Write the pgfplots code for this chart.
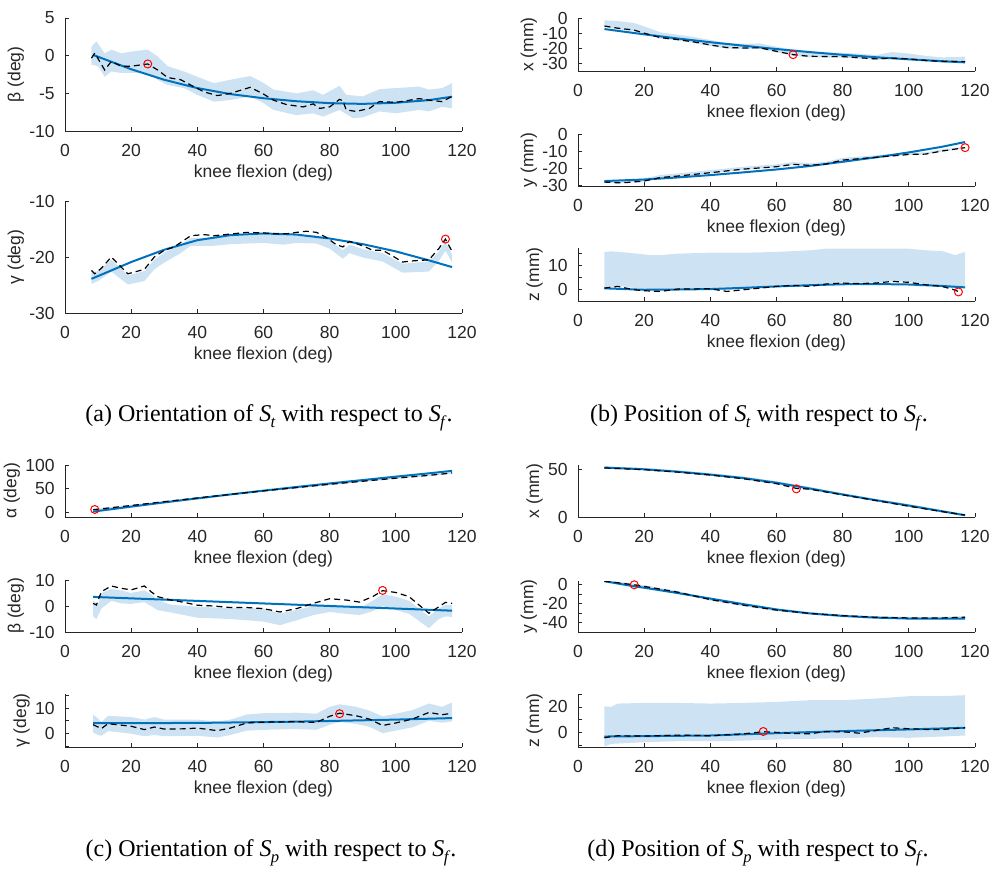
\documentclass[border=0pt]{standalone}
\usepackage{fontspec}
\setmainfont{Liberation Sans}
\newfontfamily\capfont{Liberation Serif}
\usepackage{pgfplots}
\pgfplotsset{compat=1.18}
\usepgfplotslibrary{fillbetween}

\definecolor{mgray}{RGB}{38,38,38}
\definecolor{mblue}{RGB}{0,114,189}
\definecolor{bandc}{RGB}{205,227,243}

\newcommand\tickfont{\fontsize{8.75}{10}\selectfont}
\newcommand\capsize{\fontsize{12}{14}\selectfont}
\newcommand\subS[1]{\textit{S}\kern-0.03em\raisebox{-0.55ex}{\fontsize{8.3}{9}\selectfont\textit{#1}}}

\pgfplotsset{
  panel/.style={
    scale only axis, width=198.5pt, anchor=south west,
    xmin=0, xmax=120, xtick={0,20,...,120},
    axis x line*=bottom, axis y line*=left,
    axis line style={mgray, line width=0.4pt},
    tick align=inside, major tick length=2.2pt,
    every tick/.style={mgray, line width=0.4pt},
    tick label style={font=\tickfont, text=mgray, inner sep=0pt},
    xticklabel shift=6.3pt, yticklabel shift=5pt,
    /pgf/number format/assume math mode=true,
    label style={font=\tickfont, text=mgray, inner sep=0pt},
    xlabel={knee flexion (deg)},
    xlabel style={at={(axis description cs:0.5,0)}, anchor=base, yshift=-23pt},
    ylabel shift=2.5pt,
  },
  band/.style={fill=bandc, draw=none},
  fit/.style={mblue, line width=1pt, no markers},
  avg/.style={black, line width=0.6pt, dash pattern=on 3pt off 2pt, no markers},
  pick/.style={only marks, mark=o, mark size=2pt, red, mark options={line width=0.5pt}},
}

\begin{document}
\begin{tikzpicture}
\path (0,0) rectangle (496pt,-435pt);

% (a) orientation, beta
\begin{axis}[panel, at={(32.5pt,-65.5pt)}, height=56.5pt,
  ymin=-10, ymax=5, ytick={-10,-5,0,5}, ylabel={β (deg)}]
\addplot[name path=u, draw=none] coordinates {(8,1.2)(9.5,1.9)(12,0.3)(14,0.8)(17,0.3)(20,0.55)(25,0.8)(28,-0.1)(31,-1.4)(36,-2.1)(40,-2.8)(45,-3.65)(50,-3.2)(56,-2.7)(60,-3.6)(63,-4.5)(70,-5.0)(75,-4.6)(78,-5.2)(83,-4.0)(85,-5.2)(90,-5.4)(95,-4.45)(100,-4.3)(107,-4.1)(110,-4.5)(114,-4.3)(117,-3.65)};
\addplot[name path=l, draw=none] coordinates {(8,-1.2)(10,-1.4)(12,-2.8)(14,-2.1)(17,-2.3)(25,-2.3)(28,-3.2)(31,-3.9)(36,-4.3)(40,-5.2)(45,-6.1)(50,-5.9)(56,-5.4)(60,-6.3)(63,-7.2)(70,-7.9)(75,-7.65)(78,-8.1)(83,-7.2)(87,-8.3)(90,-8.2)(95,-7.4)(100,-7.65)(107,-7.2)(110,-7.4)(114,-6.8)(117,-7.0)};
\addplot[band] fill between[of=u and l];
\addplot[fit] coordinates {(8.5,0.1)(20,-1.8)(30,-3.2)(40,-4.3)(50,-5.1)(60,-5.65)(70,-6.05)(80,-6.3)(90,-6.4)(100,-6.25)(110,-5.9)(117,-5.45)};
\addplot[avg] coordinates {(8,-0.33)(9,0.34)(12,-1.9)(14,-0.77)(17,-1.4)(20,-1.4)(25,-1.1)(28,-1.9)(31,-2.9)(35,-3.2)(38,-3.9)(42,-4.8)(46,-5.3)(50,-5.0)(53,-4.6)(56,-4.2)(60,-5.1)(63,-5.9)(67,-6.5)(72,-6.8)(75,-6.4)(77,-7.0)(80,-6.8)(83,-5.8)(84,-6.0)(85,-7.2)(88,-7.4)(92,-7.0)(95,-6.1)(100,-6.2)(103,-6.0)(107,-5.7)(110,-5.9)(114,-6.1)(117,-5.4)};
\addplot[pick] coordinates {(25,-1.1)};
\end{axis}

% (a) orientation, gamma
\begin{axis}[panel, at={(32.5pt,-156.5pt)}, height=56pt,
  ymin=-30, ymax=-10, ytick={-30,-20,-10}, ylabel={γ (deg)}]
\addplot[name path=u, draw=none] coordinates {(8,-22.8)(10,-22.5)(14,-20.5)(17,-22)(19,-23.3)(24,-22.5)(27,-20.5)(30,-19.2)(35,-17.8)(38,-16.6)(45,-16.6)(50,-16.3)(60,-16.0)(70,-16.2)(76,-16.2)(80,-17.0)(84,-18.8)(86,-17.8)(90,-18.6)(96,-19.3)(102,-21.2)(110,-20.8)(113,-19)(115,-17.2)(117,-19.5)};
\addplot[name path=l, draw=none] coordinates {(8,-24.8)(10,-24.3)(14,-22.6)(17,-24)(19,-24.9)(24,-24.3)(27,-22.2)(30,-21.0)(35,-19.3)(38,-18.0)(45,-18.0)(50,-17.7)(60,-17.5)(66,-17.8)(70,-17.5)(76,-17.6)(80,-18.5)(84,-20.3)(86,-19.3)(90,-20.1)(96,-20.8)(102,-22.8)(110,-22.6)(113,-20.7)(115,-18.9)(117,-21.0)};
\addplot[band] fill between[of=u and l];
\addplot[fit] coordinates {(8,-23.9)(20,-20.9)(30,-18.7)(40,-17.0)(50,-16.1)(60,-15.8)(70,-16.0)(80,-16.7)(90,-17.7)(100,-19.0)(110,-20.6)(117,-21.8)};
\addplot[avg] coordinates {(8,-22.4)(9,-23.0)(11,-22.0)(14,-20.0)(17,-21.8)(19,-23.0)(24,-22.2)(27,-20.0)(30,-18.8)(33,-18.2)(35,-17.4)(38,-16.2)(42,-16.0)(45,-16.2)(50,-15.9)(55,-15.6)(60,-15.7)(65,-15.9)(68,-15.8)(70,-15.6)(73,-15.4)(76,-15.6)(79,-16.5)(82,-17.8)(84,-18.2)(86,-17.2)(90,-18.0)(93,-18.8)(96,-18.8)(99,-19.8)(102,-20.9)(105,-20.7)(110,-20.5)(113,-18.5)(115,-16.8)(117,-19.0)};
\addplot[pick] coordinates {(115,-16.8)};
\end{axis}

% (b) position, x
\begin{axis}[panel, at={(289pt,-35.5pt)}, height=26.5pt,
  ymin=-35, ymax=0, ytick={-30,-20,-10,0}, ylabel={x (mm)}]
\addplot[name path=u, draw=none] coordinates {(8,-1.5)(12,-2.0)(17,-3.3)(20,-5.5)(25,-9.5)(30,-11)(35,-12.5)(40,-14.5)(45,-16.5)(50,-17)(55,-16.8)(60,-19)(65,-21)(70,-22.5)(80,-23)(85,-23.5)(90,-24.5)(95,-22.5)(100,-23.5)(105,-25)(110,-26)(117,-25.5)};
\addplot[name path=l, draw=none] coordinates {(8,-6)(12,-7.4)(17,-8.7)(20,-10.7)(25,-13.7)(30,-14.9)(35,-16.5)(40,-18.5)(45,-20.2)(50,-20.5)(55,-20.4)(60,-22.7)(65,-24.9)(70,-26)(80,-26.2)(85,-26.9)(90,-27.7)(95,-27.2)(100,-27.7)(105,-28.7)(110,-29.4)(117,-29.5)};
\addplot[band] fill between[of=u and l];
\addplot[fit] coordinates {(8,-7.3)(20,-10.8)(30,-13.5)(40,-16.0)(50,-18.3)(60,-20.5)(70,-22.5)(80,-24.3)(90,-25.9)(100,-27.3)(110,-28.5)(117,-29.3)};
\addplot[avg] coordinates {(8,-5.3)(12,-6.7)(17,-8.0)(20,-10.0)(25,-13.0)(30,-14.2)(35,-15.8)(40,-17.8)(45,-19.5)(50,-19.8)(55,-19.7)(60,-22.0)(65,-24.2)(70,-25.3)(80,-25.5)(85,-26.2)(90,-27.0)(95,-26.5)(100,-27.0)(105,-28.0)(110,-28.7)(117,-28.8)};
\addplot[pick] coordinates {(65,-24.2)};
\end{axis}

% (b) position, y
\begin{axis}[panel, at={(289pt,-93pt)}, height=26pt,
  ymin=-30.5, ymax=0, ytick={-30,-20,-10,0}, ylabel={y (mm)}]
\addplot[name path=u, draw=none] coordinates {(8,-27)(12,-27.3)(15,-27)(20,-26)(25,-24)(30,-23.2)(40,-21.2)(50,-19.2)(60,-17.8)(65,-16.5)(70,-17.2)(75,-16.3)(80,-14)(90,-12.5)(100,-11)(105,-10.8)(110,-9)(117,-7.5)};
\addplot[name path=l, draw=none] coordinates {(8,-28.5)(12,-28.9)(15,-28.7)(20,-27.9)(25,-25.8)(30,-25)(40,-23)(50,-20.9)(60,-19.5)(65,-18.1)(70,-18.7)(75,-17.9)(80,-15.6)(90,-14)(100,-12.3)(105,-12.1)(110,-10.3)(117,-8.3)};
\addplot[band] fill between[of=u and l];
\addplot[fit] coordinates {(8,-27.6)(20,-26.7)(30,-25.5)(40,-24.1)(50,-22.5)(60,-20.8)(70,-18.8)(80,-16.3)(90,-13.7)(100,-10.8)(110,-7.5)(117,-4.7)};
\addplot[avg] coordinates {(8,-28.2)(12,-28.6)(15,-28.4)(20,-27.6)(25,-25.5)(30,-24.7)(40,-22.7)(50,-20.6)(60,-19.2)(65,-17.8)(70,-18.4)(75,-17.6)(80,-15.3)(90,-13.7)(100,-12.0)(105,-11.8)(110,-10.0)(117,-8.0)};
\addplot[pick] coordinates {(117,-8.0)};
\end{axis}

% (b) position, z
\begin{axis}[panel, at={(289pt,-150.5pt)}, height=26.3pt,
  ymin=-5, ymax=17, ytick={-5,0,5,10,15}, yticklabels={{},0,{},10,{}}, ylabel={z (mm)}]
\addplot[name path=u, draw=none] coordinates {(8,15.5)(10,15.8)(15,15.2)(22,14.2)(25,14.2)(30,14.8)(40,15.2)(50,15.2)(60,15.5)(70,16.2)(75,16.9)(90,16.9)(100,16.9)(105,16.2)(110,15.9)(114,14.2)(117,15.5)};
\addplot[name path=l, draw=none] coordinates {(8,0.5)(12,1.3)(20,0)(25,-0.5)(30,0.3)(40,0.4)(45,-0.5)(50,0)(60,1.3)(65,1.7)(70,1.3)(75,2.3)(80,2.7)(90,2.7)(95,3.4)(100,3.0)(105,2.0)(110,1.3)(113,0.3)(117,0.8)};
\addplot[band] fill between[of=u and l];
\addplot[fit] coordinates {(8,0.3)(20,-0.3)(30,-0.2)(40,0)(50,0.5)(60,1.1)(70,1.6)(80,2.0)(90,2.1)(100,1.9)(110,1.3)(117,0.7)};
\addplot[avg] coordinates {(8,0.4)(12,1.1)(17,-0.3)(20,-0.7)(25,-1.0)(30,0)(40,0.1)(45,-1.0)(50,-0.3)(60,1.1)(65,1.5)(70,1.1)(75,2.1)(80,2.5)(85,2.3)(90,2.5)(95,3.2)(100,2.8)(105,1.8)(110,1.1)(113,0)(115,-1.0)};
\addplot[pick] coordinates {(115,-1.2)};
\end{axis}

% (c) orientation, alpha
\begin{axis}[panel, at={(32.5pt,-258.5pt)}, height=26pt,
  ymin=-10.5, ymax=100, ytick={0,50,100}, ylabel={α (deg)}]
\addplot[name path=u, draw=none] coordinates {(8.5,6.5)(20,15.5)(30,23.5)(40,31.5)(50,39)(60,46.5)(70,53.5)(80,60.5)(90,67)(100,73.5)(110,79.5)(117,84.5)};
\addplot[name path=l, draw=none] coordinates {(8.5,3.5)(20,12.5)(30,20.5)(40,28.5)(50,36)(60,43.5)(70,50.5)(80,57.5)(90,64)(100,70.5)(110,76.5)(117,81.5)};
\addplot[band] fill between[of=u and l];
\addplot[fit] coordinates {(8.5,1)(20,11.5)(30,20.5)(40,29)(50,37.5)(60,45.5)(70,53.3)(80,60.8)(90,68)(100,75.3)(110,82.3)(117,87.5)};
\addplot[avg] coordinates {(8.5,5)(20,14)(30,22)(40,30)(50,37.5)(60,45)(70,52)(80,59)(90,65.5)(100,72)(110,78)(117,83)};
\addplot[pick] coordinates {(9,5.5)};
\end{axis}

% (c) orientation, beta
\begin{axis}[panel, at={(32.5pt,-316pt)}, height=26pt,
  ymin=-10, ymax=10, ytick={-10,0,10}, ylabel={β (deg)}]
\addplot[name path=u, draw=none] coordinates {(8.5,2)(10,0.5)(11,5)(14,6.5)(17,6)(20,5)(24,6)(26,4.5)(28,2.3)(32,0.5)(40,-0.3)(50,-0.8)(60,-1)(65,-2.9)(70,-1.5)(75,0)(80,0.3)(85,-0.5)(89,-0.8)(93,2)(96,4.5)(100,3.6)(104,2)(110,-4)(113,-1)(115,0.5)(117,0.3)};
\addplot[name path=l, draw=none] coordinates {(8.5,-4)(9.5,-5)(11,-1)(14,2)(17,1)(20,0.8)(24,1.5)(26,0)(28,-1.6)(32,-2.5)(40,-4.5)(50,-5)(60,-6)(65,-7.4)(70,-5.5)(75,-3.5)(80,-2.3)(85,-3)(89,-3.5)(93,-2)(96,0)(100,-1.6)(104,-3)(110,-8.5)(113,-5)(115,-4)(117,-4.2)};
\addplot[band] fill between[of=u and l];
\addplot[fit] coordinates {(8.5,3.5)(117,-1.8)};
\addplot[avg] coordinates {(8.5,1.0)(9.5,0.4)(11,5.5)(14,7.7)(17,6.8)(20,6.2)(24,7.7)(26,5.5)(28,3.6)(32,2.3)(36,1.4)(40,0.3)(45,0)(50,-0.6)(55,-0.6)(60,-1.0)(65,-2.3)(70,-1.0)(75,1.0)(80,2.8)(85,2.3)(89,1.5)(93,3.6)(96,5.9)(100,5.2)(104,3.6)(110,-2.8)(113,-0.3)(115,1.4)(117,1.0)};
\addplot[pick] coordinates {(96,6)};
\end{axis}

% (c) orientation, gamma
\begin{axis}[panel, at={(32.5pt,-373.5pt)}, height=26.5pt,
  ymin=-5.2, ymax=15.5, ytick={-5,0,5,10,15}, yticklabels={{},0,{},10,{}}, ylabel={γ (deg)}]
\addplot[name path=u, draw=none] coordinates {(8.5,7.4)(10,6)(11,4.5)(13,7)(20,6.5)(24,5.5)(27,6.5)(30,5.5)(40,5.5)(46,4.8)(50,5.5)(55,7.5)(60,8)(70,8.2)(76,7.8)(80,10.5)(83,11.5)(88,10.5)(92,9)(96,6.8)(100,7.8)(105,9.2)(110,11.8)(114,10.5)(117,12.2)};
\addplot[name path=l, draw=none] coordinates {(8.5,0.5)(10,-0.5)(11,-0.8)(13,1)(20,0)(24,-1)(27,-0.5)(30,-1)(40,-0.8)(46,-1.5)(50,-0.5)(55,1.2)(60,1.5)(70,1.8)(76,1.5)(80,3.5)(83,4.5)(88,3.8)(92,2.7)(96,0.2)(100,1.2)(105,2.5)(110,5)(114,4.3)(117,4.8)};
\addplot[band] fill between[of=u and l];
\addplot[fit] coordinates {(8.5,4.1)(40,4.2)(70,4.7)(100,5.5)(117,6.1)};
\addplot[avg] coordinates {(8.5,3.5)(10,2.6)(11,2.0)(13,3.9)(20,2.9)(24,1.6)(27,2.6)(30,1.8)(36,1.9)(40,2.2)(46,1.2)(50,2.2)(55,4.2)(60,4.5)(70,4.7)(76,4.4)(80,6.8)(83,8.0)(88,7.0)(92,5.7)(96,3.2)(100,4.2)(105,5.7)(110,8.3)(114,7.4)(117,8.0)};
\addplot[pick] coordinates {(83,7.8)};
\end{axis}

% (d) position, x
\begin{axis}[panel, at={(289pt,-258.5pt)}, height=26pt,
  ymin=0, ymax=54.5, ytick={0,50}, ylabel={x (mm)}]
\addplot[name path=u, draw=none] coordinates {(8,53)(20,51.5)(30,49)(40,46)(50,42.5)(60,37.5)(70,31.5)(80,25)(90,19)(100,13.5)(110,7.5)(117,2.8)};
\addplot[name path=l, draw=none] coordinates {(8,50.9)(20,49.1)(30,46.6)(40,43.5)(50,39.6)(60,34.4)(70,28.7)(80,22.7)(90,16.8)(100,10.8)(110,5.2)(117,1.6)};
\addplot[band] fill between[of=u and l];
\addplot[fit] coordinates {(8,51.8)(20,50)(30,47.5)(40,44.4)(50,40.8)(60,35.9)(70,29.9)(80,23.6)(90,17.6)(100,12)(110,6)(117,1.8)};
\addplot[avg] coordinates {(8,51.4)(20,49.6)(30,47.1)(40,44)(50,40.1)(60,34.9)(66,30)(70,29.2)(80,23.2)(90,17.3)(100,11.3)(110,5.7)(117,2.1)};
\addplot[pick] coordinates {(66,29.5)};
\end{axis}

% (d) position, y
\begin{axis}[panel, at={(289pt,-316pt)}, height=25.5pt,
  ymin=-50, ymax=4, ytick={-50,-40,-30,-20,-10,0}, yticklabels={{},-40,{},-20,{},0}, ylabel={y (mm)}]
\addplot[name path=u, draw=none] coordinates {(8,5)(17,1.2)(20,-0.5)(30,-6.5)(40,-14.5)(50,-20.4)(60,-25.6)(70,-29.1)(80,-31.5)(90,-33.2)(100,-33.9)(110,-33.9)(117,-33.2)};
\addplot[name path=l, draw=none] coordinates {(8,2.6)(17,-1.2)(20,-2.9)(30,-8.9)(40,-16.9)(50,-22.8)(60,-28)(70,-31.5)(80,-33.9)(90,-35.6)(100,-36.3)(110,-36.3)(117,-35.6)};
\addplot[band] fill between[of=u and l];
\addplot[fit] coordinates {(8,3.8)(17,-1.7)(20,-3.1)(30,-8.7)(40,-14.6)(50,-20.5)(60,-26.1)(70,-30.3)(80,-33)(90,-34.8)(100,-35.8)(110,-35.9)(117,-35.8)};
\addplot[avg] coordinates {(8,3.8)(17,0)(20,-1.7)(30,-7.7)(40,-15.7)(50,-21.6)(60,-26.8)(70,-30.3)(80,-32.7)(90,-34.4)(100,-35.1)(110,-35.1)(117,-34.4)};
\addplot[pick] coordinates {(17,0)};
\end{axis}

% (d) position, z
\begin{axis}[panel, at={(289pt,-373.5pt)}, height=26.5pt,
  ymin=-11, ymax=30, ytick={-10,0,10,20,30}, yticklabels={{},0,{},20,{}}, ylabel={z (mm)}]
\addplot[name path=u, draw=none] coordinates {(8,20.5)(10,20)(12,22.6)(20,23.1)(30,23.1)(40,22.6)(50,23.1)(60,23.9)(70,25.2)(80,25.2)(90,26.5)(100,28.3)(110,28.3)(117,29.1)};
\addplot[name path=l, draw=none] coordinates {(8,-10.6)(10,-8.6)(20,-7.3)(30,-6.5)(40,-6.5)(50,-6)(60,-5.2)(70,-4.7)(80,-4.2)(90,-3.4)(100,-3.9)(110,-2.9)(117,-2.1)};
\addplot[band] fill between[of=u and l];
\addplot[fit] coordinates {(8,-2.9)(20,-2.6)(40,-2.1)(60,-0.3)(80,1.3)(100,2.6)(117,3.9)};
\addplot[avg] coordinates {(8,-3.9)(9,-3.4)(12,-2.3)(20,-2.6)(30,-1.8)(40,-2.3)(50,-0.8)(56,0.8)(60,0.3)(65,-0.5)(70,-0.8)(75,1)(80,0.8)(85,-0.3)(90,1.8)(95,3.9)(100,3.1)(105,2.6)(110,2.6)(117,3.9)};
\addplot[pick] coordinates {(56,1)};
\end{axis}

\node[anchor=base, font=\capfont\capsize] at (134.5pt,-210.5pt) {(a) Orientation of \subS{t} with respect to \subS{f}.};
\node[anchor=base, font=\capfont\capsize] at (379.5pt,-210.5pt) {(b) Position of \subS{t} with respect to \subS{f}.};
\node[anchor=base, font=\capfont\capsize] at (135.5pt,-428.3pt) {(c) Orientation of \subS{p} with respect to \subS{f}.};
\node[anchor=base, font=\capfont\capsize] at (379pt,-428.3pt) {(d) Position of \subS{p} with respect to \subS{f}.};
\end{tikzpicture}
\end{document}
